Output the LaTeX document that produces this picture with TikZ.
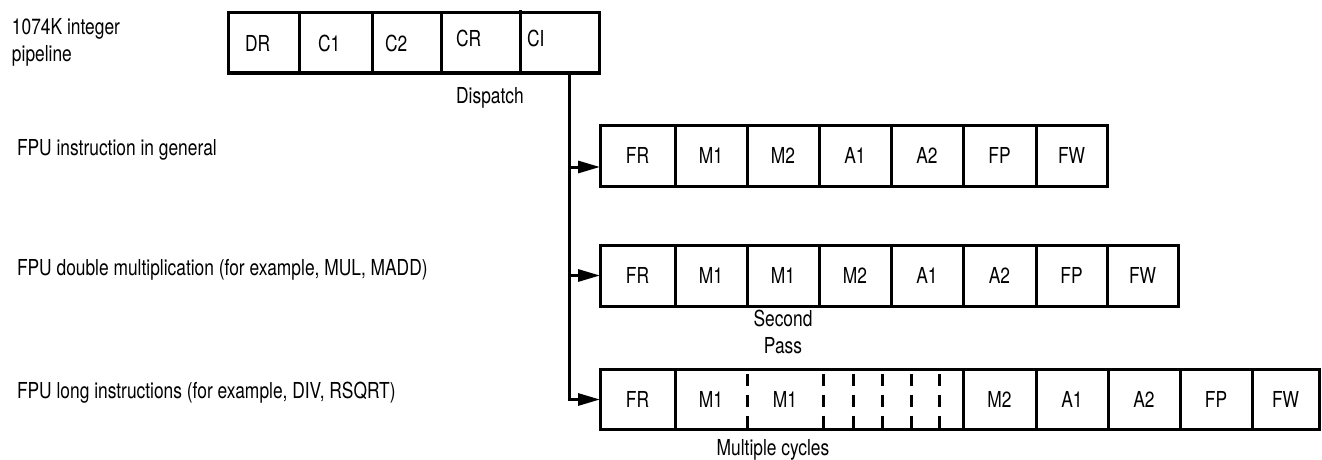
\documentclass[tikz,border=0pt]{standalone}
\usepackage{fontspec}
\setmainfont[FakeStretch=0.79]{TeX Gyre Heros}
\usetikzlibrary{arrows.meta}
\begin{document}
\begin{tikzpicture}[x=1pt,y=-1pt,
  lw/.style={line width=3pt},
  txt/.style={inner sep=0pt, outer sep=0pt, font=\fontsize{22}{27}\selectfont},
  cell/.style={rectangle, draw, lw, inner sep=0pt, outer sep=0pt, minimum height=61pt, font=\fontsize{22}{27}\selectfont},
  blank/.style={rectangle, inner sep=0pt, outer sep=0pt, minimum height=60pt, font=\fontsize{22}{27}\selectfont},
  feed/.style={lw, -{Triangle[length=22pt,width=12pt]}},
  divd/.style={lw, dash pattern=on 12pt off 9pt, dash phase=-4pt}]
\useasboundingbox (0,0) rectangle (1322,460);

% left labels
\node[txt, anchor=west, align=left] (lint) at (12,42) {1074K integer\\pipeline};
\node[txt, anchor=west] (lgen) at (17,150) {FPU instruction in general};
\node[txt, anchor=west] (ldbl) at (17,270) {FPU double multiplication (for example, MUL, MADD)};
\node[txt, anchor=west] (llong) at (17,393) {FPU long instructions (for example, DIV, RSQRT)};

% integer pipeline
\node[cell, minimum width=71pt, minimum height=60pt] (dr) at (263.5,43) {};
\node[cell, minimum width=73pt, minimum height=60pt] (c1) at (335.5,43) {};
\node[cell, minimum width=69pt, minimum height=60pt] (c2) at (406.5,43) {};
\node[cell, minimum width=79pt, minimum height=60pt] (cr) at (480.5,43) {};
\node[cell, minimum width=79pt, minimum height=60pt] (ci) at (559.5,43) {};
\node[txt, anchor=west] (tdr) at (245,43) {DR};
\node[txt, anchor=west] (tc1) at (318,43) {C1};
\node[txt, anchor=west] (tc2) at (385,43) {C2};
\node[txt, anchor=west] (tcr) at (456,38) {CR};
\node[txt, anchor=west] (tci) at (527,38) {CI};
\draw[lw] (ci.north west) -- ++(0,-3);
\node[txt] (disptxt) at (490,98) {Dispatch};

% FPU general
\foreach \a/\b/\t [count=\i] in {600/675/FR,675/747/M1,747/819/M2,819/891/A1,891/963/A2,963/1036/FP,1036/1107/FW}
  \node[cell, minimum width={(\b-\a)*1pt}] (r2-\i) at ({(\a+\b)/2},155.5) {\t};

% FPU double multiplication
\foreach \a/\b/\t [count=\i] in {600/675/FR,675/747/M1,747/819/M1,819/891/M2,891/963/A1,963/1036/A2,1036/1107/FP,1107/1178/FW}
  \node[cell, minimum width={(\b-\a)*1pt}] (r3-\i) at ({(\a+\b)/2},275.5) {\t};
\node[txt, align=center] (second) at (783,332) {Second\\Pass};

% FPU long
\foreach \a/\b/\t [count=\i] in {600/675/FR,675/747/M1,747/823/M1,823/853/,853/882/,882/911/,911/939/,939/963/,963/1036/M2,1036/1108/A1,1108/1180/A2,1180/1252/FP,1252/1319/FW}
  \node[blank, minimum width={(\b-\a)*1pt}] (r4-\i) at ({(\a+\b)/2},399.5) {\t};
\draw[lw] (r4-1.north west) rectangle (r4-13.south east);
\foreach \i in {1,8,9,10,11,12}
  \draw[lw] (r4-\i.north east) -- (r4-\i.south east);
\foreach \i in {2,...,7}
  \draw[divd] (r4-\i.north east) -- (r4-\i.south east);
\node[txt] (multi) at (773,450) {Multiple cycles};

% dispatch connectors
\coordinate (disp) at ([xshift=9.5pt]ci.south);
\coordinate (r2in) at ([yshift=-11.5pt]r2-1.west);
\draw[feed] (disp) |- (r4-1.west);
\draw[feed] (disp |- r3-1.west) -- (r3-1.west);
\draw[feed] (disp |- r2in) -- (r2in);
\end{tikzpicture}
\end{document}
